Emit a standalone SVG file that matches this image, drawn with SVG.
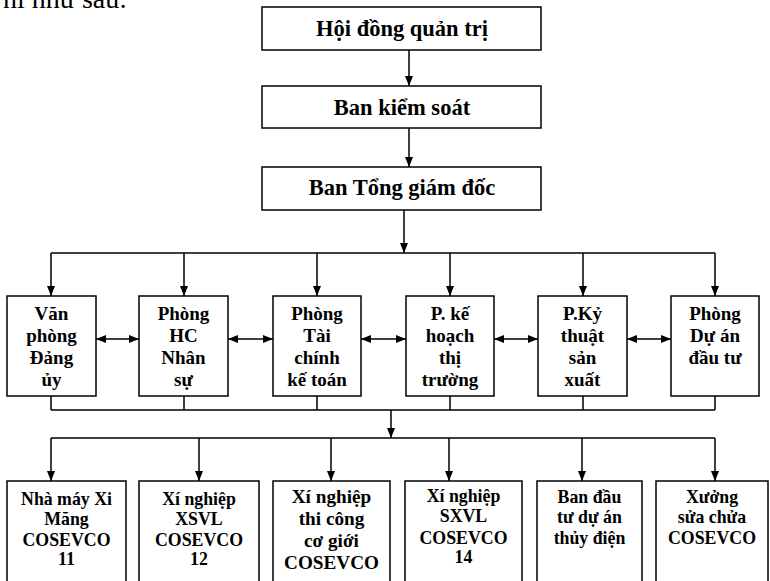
<svg xmlns="http://www.w3.org/2000/svg" width="770" height="581" viewBox="0 0 770 581">
<style>
.box{fill:#fff;stroke:#000;stroke-width:1.5}
.t{font-family:"Liberation Serif","Times New Roman",serif;font-weight:bold;fill:#000;text-anchor:middle}
.t1{font-size:22.5px}
.t2{font-size:19px}
.t3{font-size:17.8px}
.t4{font-size:19.2px}
.ln{fill:none;stroke:#000;stroke-width:1.5}
.a{marker-end:url(#ah)}
.d{marker-start:url(#ah);marker-end:url(#ah)}
</style>
<defs>
<marker id="ah" markerUnits="userSpaceOnUse" markerWidth="10" markerHeight="10" viewBox="0 0 10 10" refX="10" refY="5" orient="auto-start-reverse">
<path d="M0,1 L10,5 L0,9 Z" fill="#000"/>
</marker>
</defs>
<text x="127" y="8" font-family="Liberation Serif,serif" font-size="28" text-anchor="end">ni như sau:</text>

<g id="connectors">
<line class="ln a" x1="409" y1="50" x2="409" y2="86"/>
<line class="ln a" x1="409" y1="128" x2="409" y2="167"/>
<line class="ln a" x1="404" y1="210" x2="404" y2="253"/>
<line class="ln" x1="51" y1="253" x2="715" y2="253"/>
<line class="ln a" x1="51" y1="253" x2="51" y2="296"/>
<line class="ln a" x1="184" y1="253" x2="184" y2="296"/>
<line class="ln a" x1="317" y1="253" x2="317" y2="296"/>
<line class="ln a" x1="450" y1="253" x2="450" y2="296"/>
<line class="ln a" x1="583" y1="253" x2="583" y2="296"/>
<line class="ln a" x1="715" y1="253" x2="715" y2="296"/>
<line class="ln d" x1="96" y1="339" x2="139" y2="339"/>
<line class="ln d" x1="228" y1="339" x2="273" y2="339"/>
<line class="ln d" x1="361" y1="339" x2="406" y2="339"/>
<line class="ln d" x1="494" y1="339" x2="538" y2="339"/>
<line class="ln d" x1="627" y1="339" x2="671" y2="339"/>
<path class="ln" d="M51,396V410M184,396V410M317,396V410M450,396V410M583,396V410M715,396V410M51,410H715"/>
<line class="ln a" x1="391" y1="410" x2="391" y2="438"/>
<line class="ln" x1="51" y1="438" x2="715" y2="438"/>
<line class="ln a" x1="51" y1="438" x2="51" y2="481"/>
<line class="ln a" x1="199" y1="438" x2="199" y2="481"/>
<line class="ln a" x1="331" y1="438" x2="331" y2="481"/>
<line class="ln a" x1="449" y1="438" x2="449" y2="481"/>
<line class="ln a" x1="582" y1="438" x2="582" y2="481"/>
<line class="ln a" x1="715" y1="438" x2="715" y2="481"/>
</g>

<g id="hdqt"><rect class="box" x="262" y="7" width="279" height="43"/><text class="t t1" x="402" y="36">Hội đồng quản trị</text></g>
<g id="bks"><rect class="box" x="262" y="86" width="279" height="42"/><text class="t t1" x="402" y="115">Ban kiểm soát</text></g>
<g id="btgd"><rect class="box" x="262" y="167" width="279" height="43"/><text class="t t1" x="402" y="195">Ban Tổng giám đốc</text></g>

<g id="vpdu"><rect class="box" x="7" y="296" width="89" height="100"/><text class="t t2" x="51.5" y="320">Văn<tspan x="51.5" y="342">phòng</tspan><tspan x="51.5" y="364">Đảng</tspan><tspan x="51.5" y="386">ủy</tspan></text></g>
<g id="hcns"><rect class="box" x="139" y="296" width="89" height="100"/><text class="t t2" x="183.5" y="320">Phòng<tspan x="183.5" y="342">HC</tspan><tspan x="183.5" y="364">Nhân</tspan><tspan x="183.5" y="386">sự</tspan></text></g>
<g id="tckt"><rect class="box" x="273" y="296" width="88" height="100"/><text class="t t2" x="317" y="320">Phòng<tspan x="317" y="342">Tài</tspan><tspan x="317" y="364">chính</tspan><tspan x="317" y="386">kế toán</tspan></text></g>
<g id="khtt"><rect class="box" x="406" y="296" width="88" height="100"/><text class="t t2" x="450" y="320">P. kế<tspan x="450" y="342">hoạch</tspan><tspan x="450" y="364">thị</tspan><tspan x="450" y="386">trường</tspan></text></g>
<g id="ktsx"><rect class="box" x="538" y="296" width="89" height="100"/><text class="t t2" x="582.5" y="320">P.Kỷ<tspan x="582.5" y="342">thuật</tspan><tspan x="582.5" y="364">sản</tspan><tspan x="582.5" y="386">xuất</tspan></text></g>
<g id="dadt"><rect class="box" x="671" y="296" width="88" height="100"/><text class="t t2" x="715" y="320">Phòng<tspan x="715" y="342">Dự án</tspan><tspan x="715" y="364">đầu tư</tspan></text></g>

<g id="nmxm"><rect class="box" x="7" y="481" width="119" height="130"/><text class="t t3" x="66.5" y="505">Nhà máy Xi<tspan x="66.5" y="525">Măng</tspan><tspan x="66.5" y="546">COSEVCO</tspan><tspan x="66.5" y="565">11</tspan></text></g>
<g id="xn12"><rect class="box" x="139" y="481" width="120" height="130"/><text class="t t3" x="199" y="505">Xí nghiệp<tspan x="199" y="525">XSVL</tspan><tspan x="199" y="546">COSEVCO</tspan><tspan x="199" y="565">12</tspan></text></g>
<g id="xntc"><rect class="box" x="273" y="481" width="117" height="130"/><text class="t t4" x="331.5" y="503">Xí nghiệp<tspan x="331.5" y="525">thi công</tspan><tspan x="331.5" y="547">cơ giới</tspan><tspan x="331.5" y="569">COSEVCO</tspan></text></g>
<g id="xn14"><rect class="box" x="405" y="481" width="117" height="130"/><text class="t t3" x="463.5" y="502">Xí nghiệp<tspan x="463.5" y="522">SXVL</tspan><tspan x="463.5" y="544">COSEVCO</tspan><tspan x="463.5" y="563">14</tspan></text></g>
<g id="bdt"><rect class="box" x="537" y="481" width="105" height="130"/><text class="t t3" x="589.5" y="503">Ban đầu<tspan x="589.5" y="523">tư dự án</tspan><tspan x="589.5" y="544">thủy điện</tspan></text></g>
<g id="xsc"><rect class="box" x="656" y="481" width="112" height="130"/><text class="t t3" x="712" y="503">Xưởng<tspan x="712" y="523">sửa chửa</tspan><tspan x="712" y="544">COSEVCO</tspan></text></g>
</svg>
